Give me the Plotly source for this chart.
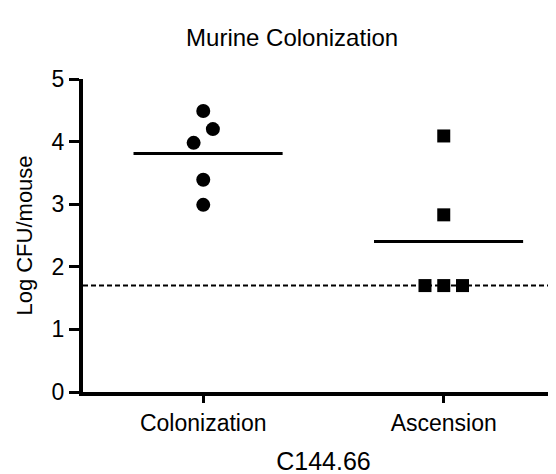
import plotly.graph_objects as go

categories = ["Colonization", "Ascension"]
colonization_values = [4.49, 4.20, 3.98, 3.39, 2.99]
colonization_offsets = [0.0, 0.04, -0.04, 0.0, 0.0]
ascension_values = [4.09, 2.83, 1.70, 1.70, 1.70]
ascension_offsets = [0.0, 0.0, -0.078, 0.0, 0.078]
detection_limit = 1.70
y_ticks = [0, 1, 2, 3, 4, 5]

def mean(v):
    return sum(v) / len(v)

FONT = "Liberation Sans, Arial, sans-serif"

fig = go.Figure()

# detection limit dashed line
fig.add_trace(go.Scatter(
    x=[-0.5, 1.5], y=[detection_limit, detection_limit], mode="lines",
    line=dict(color="black", width=2, dash="5px,3px"), hoverinfo="skip", showlegend=False))

# mean lines
for i, vals in enumerate([colonization_values, ascension_values]):
    m = mean(vals)
    fig.add_trace(go.Scatter(
        x=[i - 0.29, i + 0.33], y=[m, m], mode="lines",
        line=dict(color="black", width=3), showlegend=False))

fig.add_trace(go.Scatter(
    x=[0 + o for o in colonization_offsets], y=colonization_values, mode="markers",
    marker=dict(symbol="circle", size=14, color="black"), showlegend=False))
fig.add_trace(go.Scatter(
    x=[1 + o for o in ascension_offsets], y=ascension_values, mode="markers",
    marker=dict(symbol="square", size=13, color="black"), showlegend=False))

fig.update_layout(
    width=556, height=474,
    margin=dict(l=75, r=0, t=71, b=90),
    plot_bgcolor="white", paper_bgcolor="white",
    font=dict(family=FONT, color="black"),
    title=dict(text="Murine Colonization", x=0.511, xanchor="center", y=0.938, yanchor="middle",
               font=dict(size=24, family=FONT, color="black")),
    xaxis=dict(range=[-0.5, 1.5], tickvals=[0, 1], ticktext=categories,
               showline=True, linecolor="black", linewidth=4, mirror=False,
               ticks="outside", ticklen=7, tickwidth=3, tickcolor="black",
               showgrid=False, zeroline=False, automargin=False,
               tickfont=dict(size=23, family=FONT),
               title=dict(text="C144.66", font=dict(size=25, family=FONT), standoff=19)),
    yaxis=dict(range=[0, 5], tickvals=y_ticks,
               showline=True, linecolor="black", linewidth=4,
               ticks="outside", ticklen=10, tickwidth=3, tickcolor="black",
               showgrid=False, zeroline=False, automargin=False,
               tickfont=dict(size=23, family=FONT),
               title=dict(text="Log CFU/mouse", font=dict(size=22, family=FONT), standoff=14)),
)

fig.write_html("out.html")
